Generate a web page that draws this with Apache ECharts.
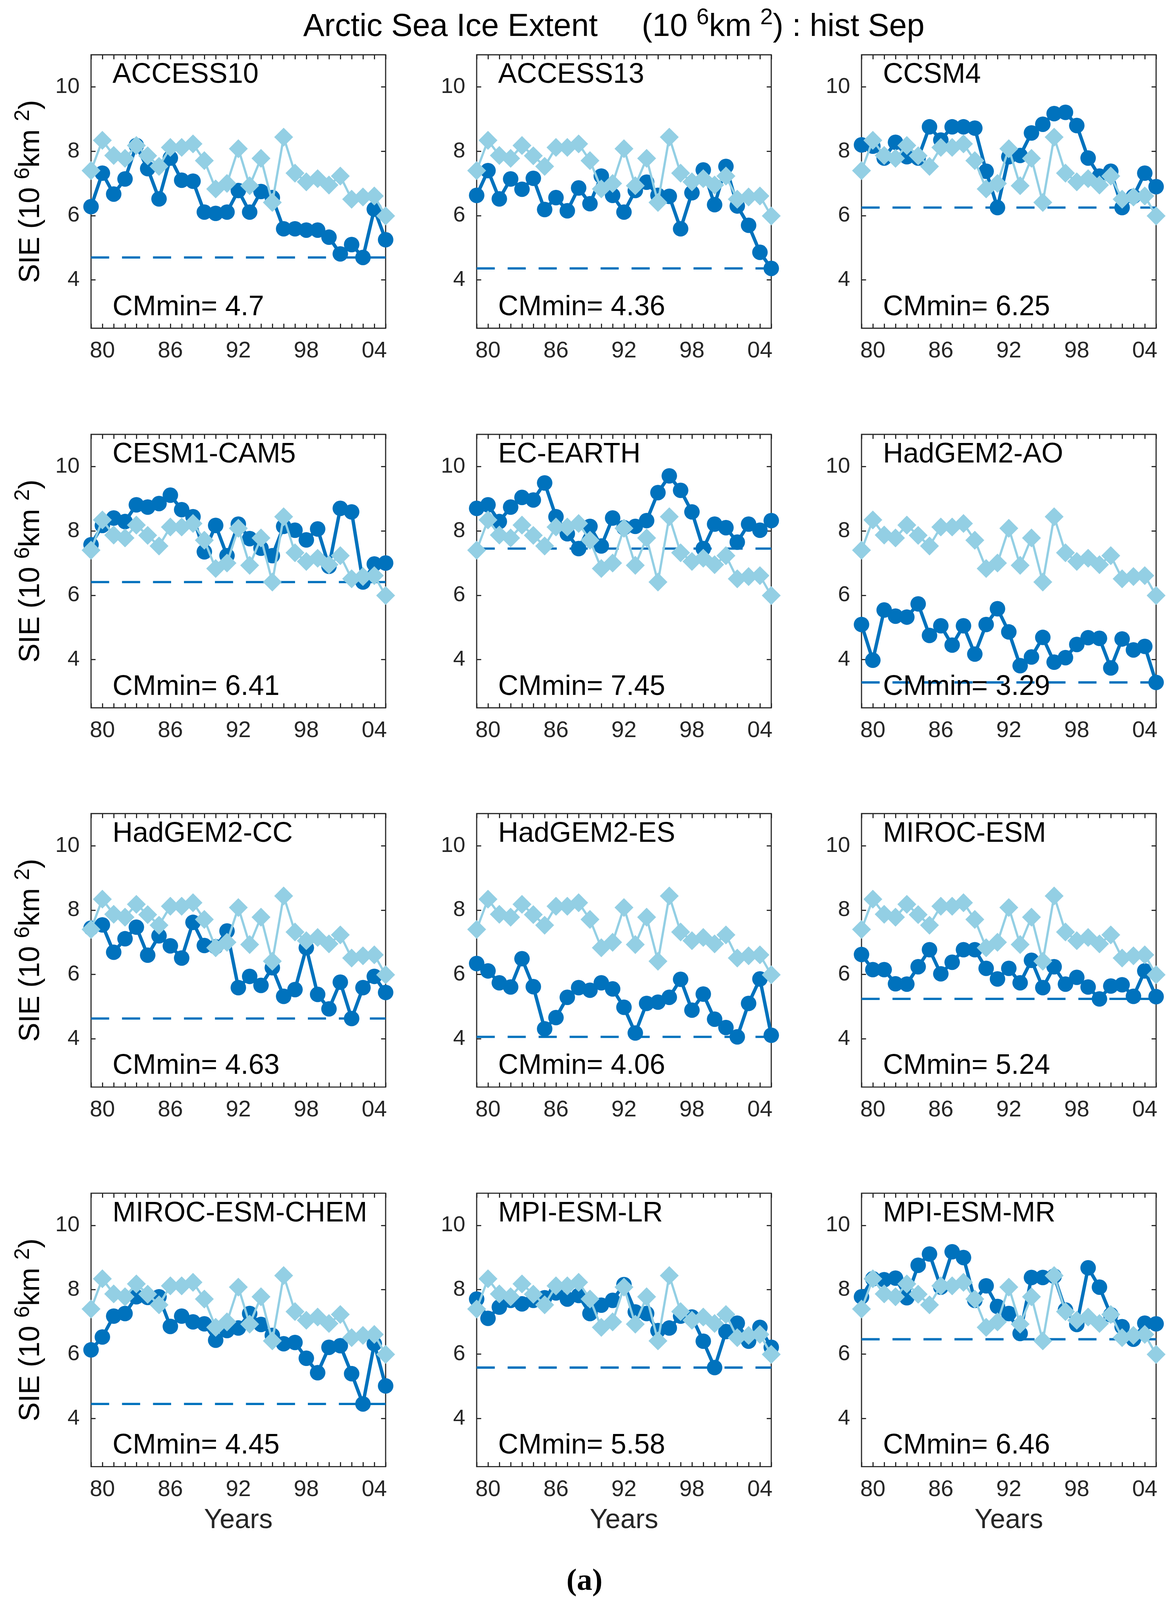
<!DOCTYPE html>
<html lang="en">
<head>
<meta charset="UTF-8">
<title>Arctic Sea Ice Extent: hist Sep</title>
<script src="https://cdn.jsdelivr.net/npm/echarts@6.0.0/dist/echarts.min.js"></script>
<style>
  html, body { margin: 0; padding: 0; background: #fff; overflow: hidden; }
  #chart { width: 100vw; height: 100vh; }
</style>
</head>
<body>
<div id="chart"></div>
<script>
  // x axis: September of each year
  const years = [1979, 1980, 1981, 1982, 1983, 1984, 1985, 1986, 1987, 1988, 1989, 1990, 1991, 1992,
                 1993, 1994, 1995, 1996, 1997, 1998, 1999, 2000, 2001, 2002, 2003, 2004, 2005];
  const tickYears = [1980, 1986, 1992, 1998, 2004];
  const tickLabels = ['80', '86', '92', '98', '04'];
  const yTicks = [4, 6, 8, 10];

  // observed extent (light blue diamonds, same in every panel)
  const obs = [7.4, 8.34, 7.87, 7.78, 8.18, 7.86, 7.53, 8.12, 8.12, 8.23, 7.71, 6.83, 7.0, 8.08,
               6.93, 7.78, 6.41, 8.44, 7.32, 7.05, 7.15, 6.95, 7.23, 6.51, 6.58, 6.61, 5.99];

  // model extents (dark blue circles)
  const access10 = [6.28, 7.32, 6.67, 7.14, 8.18, 7.46, 6.52, 7.79, 7.1, 7.07, 6.11, 6.07, 6.11, 6.78,
                    6.11, 6.75, 6.56, 5.59, 5.59, 5.55, 5.55, 5.33, 4.81, 5.1, 4.7, 6.2, 5.25];
  const access13 = [6.63, 7.4, 6.52, 7.14, 6.82, 7.16, 6.19, 6.56, 6.15, 6.86, 6.37, 7.23, 6.63, 6.11,
                    6.78, 7.04, 6.63, 6.6, 5.59, 6.71, 7.42, 6.34, 7.53, 6.3, 5.7, 4.86, 4.36];
  const ccsm4 = [8.2, 8.16, 7.79, 8.28, 7.83, 7.79, 8.76, 8.35, 8.76, 8.76, 8.72, 7.38, 6.25, 7.83,
                 7.87, 8.57, 8.84, 9.17, 9.21, 8.8, 7.79, 7.23, 7.38, 6.25, 6.6, 7.32, 6.9];
  const cesm1cam5 = [7.57, 8.17, 8.4, 8.29, 8.81, 8.74, 8.85, 9.11, 8.66, 8.44, 7.35, 8.17, 7.23, 8.21,
                     7.76, 7.46, 7.23, 8.14, 8.02, 7.72, 8.06, 6.9, 8.7, 8.59, 6.41, 6.97, 7.0];
  const ecEarth = [8.7, 8.81, 8.29, 8.74, 9.04, 8.96, 9.49, 8.44, 7.91, 7.45, 8.14, 7.53, 8.4, 8.1,
                   8.14, 8.32, 9.19, 9.71, 9.26, 8.59, 7.45, 8.21, 8.1, 7.65, 8.21, 8.02, 8.32];
  const hadgem2ao = [5.09, 3.98, 5.54, 5.35, 5.32, 5.73, 4.75, 5.05, 4.45, 5.05, 4.17, 5.09, 5.58, 4.86,
                     3.81, 4.08, 4.69, 3.92, 4.06, 4.47, 4.68, 4.66, 3.74, 4.64, 4.3, 4.41, 3.29];
  const hadgem2cc = [7.44, 7.54, 6.69, 7.11, 7.47, 6.6, 7.2, 6.89, 6.51, 7.62, 6.9, 6.86, 7.35, 5.59,
                     5.94, 5.66, 6.21, 5.32, 5.53, 6.83, 5.38, 4.93, 5.76, 4.63, 5.59, 5.94, 5.44];
  const hadgem2es = [6.34, 6.11, 5.74, 5.61, 6.49, 5.62, 4.31, 4.66, 5.29, 5.59, 5.51, 5.74, 5.55, 4.98,
                     4.18, 5.1, 5.14, 5.29, 5.85, 4.89, 5.39, 4.61, 4.35, 4.06, 5.1, 5.86, 4.11];
  const mirocEsm = [6.62, 6.15, 6.15, 5.71, 5.7, 6.24, 6.77, 6.02, 6.38, 6.77, 6.77, 6.19, 5.86, 6.19,
                    5.74, 6.44, 5.59, 6.24, 5.7, 5.91, 5.61, 5.24, 5.64, 5.68, 5.32, 6.11, 5.31];
  const mirocEsmChem = [6.13, 6.53, 7.18, 7.26, 7.78, 7.76, 7.78, 6.86, 7.18, 7.0, 6.94, 6.43, 6.73, 6.81,
                        7.26, 6.92, 6.58, 6.32, 6.36, 5.87, 5.42, 6.21, 6.26, 5.39, 4.45, 6.32, 5.01];
  const mpiEsmLr = [7.71, 7.11, 7.46, 7.67, 7.56, 7.67, 7.75, 7.9, 7.71, 7.82, 7.26, 7.52, 7.67, 8.16,
                    7.31, 7.26, 6.73, 6.81, 7.18, 7.15, 6.4, 5.58, 6.7, 6.96, 6.4, 6.83, 6.21];
  const mpiEsmMr = [7.78, 8.34, 8.31, 8.36, 7.75, 8.76, 9.11, 8.08, 9.18, 9.0, 7.67, 8.12, 7.48, 7.26,
                    6.64, 8.38, 8.38, 8.42, 7.37, 6.92, 8.68, 8.08, 7.22, 6.85, 6.46, 6.96, 6.94];

  const modelNames = ['ACCESS10', 'ACCESS13', 'CCSM4', 'CESM1-CAM5', 'EC-EARTH', 'HadGEM2-AO',
                      'HadGEM2-CC', 'HadGEM2-ES', 'MIROC-ESM', 'MIROC-ESM-CHEM', 'MPI-ESM-LR', 'MPI-ESM-MR'];
  const cmMin = ['4.7', '4.36', '6.25', '6.41', '7.45', '3.29', '4.63', '4.06', '5.24', '4.45', '5.58', '6.46'];

  const modelData = [access10, access13, ccsm4, cesm1cam5, ecEarth, hadgem2ao,
                     hadgem2cc, hadgem2es, mirocEsm, mirocEsmChem, mpiEsmLr, mpiEsmMr];

  const dark = '#0072BD';
  const light = '#93CFE4';
  const axisColor = '#262626';
  const fontFam = '"Liberation Sans", Arial, Helvetica, sans-serif';

  // layout is laid out on a 2992 x 4236 frame and scaled to the actual window
  const el = document.getElementById('chart');
  const sx = el.clientWidth / 2992, sy = el.clientHeight / 4236;
  const sc = Math.min(sx, sy);
  const X = v => v * sx, Y = v => v * sy, S = v => v * sc;

  const colLeft = [233, 1220, 2205];
  const rowTop = [145, 1150, 2154, 3159];
  const W = 754, H = 724;

  const supRich = {
    n: { fontSize: S(76), lineHeight: S(100), fontFamily: fontFam, color: '#000' },
    s: { fontSize: S(56), lineHeight: S(56), fontFamily: fontFam, color: '#000', verticalAlign: 'top' }
  };

  let grids = [], xAxes = [], yAxes = [], series = [], texts = [];

  modelNames.forEach(function (name, i) {
    const row = Math.floor(i / 3), col = i % 3;
    const left = colLeft[col], top = rowTop[row];

    grids.push({
      left: X(left), top: Y(top), width: X(W), height: Y(H),
      show: true, borderColor: axisColor, borderWidth: S(3), backgroundColor: 'transparent'
    });

    const xBase = {
      gridIndex: i, type: 'value', min: 1979, max: 2005,
      axisLine: { show: false },
      axisTick: { show: true, inside: true, length: S(12), customValues: years,
                  lineStyle: { color: axisColor, width: S(3) } },
      splitLine: { show: false }
    };
    xAxes.push(Object.assign({}, xBase, {
      position: 'bottom',
      axisLabel: {
        show: true, customValues: tickYears, margin: S(31),
        fontSize: S(60), fontFamily: fontFam, color: axisColor,
        formatter: function (v) { return tickLabels[tickYears.indexOf(v)]; }
      },
      name: row === 3 ? 'Years' : '',
      nameLocation: 'middle', nameGap: S(107),
      nameTextStyle: { fontSize: S(72), fontFamily: fontFam, color: axisColor }
    }));
    xAxes.push(Object.assign({}, xBase, { position: 'top', axisLabel: { show: false } }));

    const yBase = {
      gridIndex: i, type: 'value', min: 2.5, max: 11,
      axisLine: { show: false },
      axisTick: { show: true, inside: true, length: S(12), customValues: yTicks,
                  lineStyle: { color: axisColor, width: S(3) } },
      splitLine: { show: false }
    };
    yAxes.push(Object.assign({}, yBase, {
      position: 'left',
      axisLabel: { show: true, customValues: yTicks, margin: S(30),
                   fontSize: S(58), fontFamily: fontFam, color: axisColor },
      name: col === 0 ? '{n|SIE (10 }{s|6}{n|km }{s|2}{n|)}' : '',
      nameLocation: 'middle', nameGap: S(108), nameRotate: 90,
      nameTextStyle: { rich: supRich }
    }));
    yAxes.push(Object.assign({}, yBase, { position: 'right', axisLabel: { show: false } }));

    // CMmin dashed line
    series.push({
      type: 'line', xAxisIndex: 2 * i, yAxisIndex: 2 * i, clip: false, z: 2,
      data: [[years[0], +cmMin[i]], [years[years.length - 1], +cmMin[i]]],
      symbol: 'none', silent: true,
      lineStyle: { color: dark, width: S(6), type: [S(48), S(34)] }
    });
    // model
    series.push({
      type: 'line', xAxisIndex: 2 * i, yAxisIndex: 2 * i, clip: false, z: 3,
      data: years.map(function (y, k) { return [y, modelData[i][k]]; }),
      symbol: 'circle', symbolSize: S(41),
      itemStyle: { color: dark },
      lineStyle: { color: dark, width: S(9) }
    });
    // observations
    series.push({
      type: 'line', xAxisIndex: 2 * i, yAxisIndex: 2 * i, clip: false, z: 4,
      data: years.map(function (y, k) { return [y, obs[k]]; }),
      symbol: 'diamond', symbolSize: S(50),
      itemStyle: { color: light },
      lineStyle: { color: light, width: S(6) }
    });

    texts.push({
      type: 'text', x: X(left + 55), y: Y(top + 54), z: 100,
      style: { text: name, fill: '#000', font: S(74) + 'px ' + fontFam,
               textAlign: 'left', align: 'left', textVerticalAlign: 'middle', verticalAlign: 'middle' }
    });
    texts.push({
      type: 'text', x: X(left + 55), y: Y(top + 669), z: 100,
      style: { text: 'CMmin= ' + cmMin[i], fill: '#000', font: S(74) + 'px ' + fontFam,
               textAlign: 'left', align: 'left', textVerticalAlign: 'middle', verticalAlign: 'middle' }
    });
  });

  // figure title and panel tag
  texts.push({
    type: 'text', x: X(1571), y: Y(72), z: 100,
    style: {
      text: '{t|Arctic Sea Ice Extent     (10 }{s|6}{t|km }{s|2}{t|) : hist Sep}',
      textAlign: 'center', align: 'center', textVerticalAlign: 'middle', verticalAlign: 'middle',
      rich: {
        t: { fontSize: S(84), lineHeight: S(108), fontFamily: fontFam, fill: '#000', color: '#000' },
        s: { fontSize: S(60), lineHeight: S(60), fontFamily: fontFam, fill: '#000', color: '#000', verticalAlign: 'top' }
      }
    }
  });
  texts.push({
    type: 'text', x: X(1496), y: Y(4188), z: 100,
    style: { text: '(a)', fill: '#000', font: 'bold ' + S(82) + 'px "Liberation Serif", "Times New Roman", serif',
             textAlign: 'center', align: 'center', textVerticalAlign: 'middle', verticalAlign: 'middle' }
  });

  const myChart = echarts.init(el, null, { renderer: 'canvas' });
  myChart.setOption({
    animation: false,
    backgroundColor: '#fff',
    grid: grids,
    xAxis: xAxes,
    yAxis: yAxes,
    series: series,
    graphic: { elements: texts }
  });
</script>
</body>
</html>
